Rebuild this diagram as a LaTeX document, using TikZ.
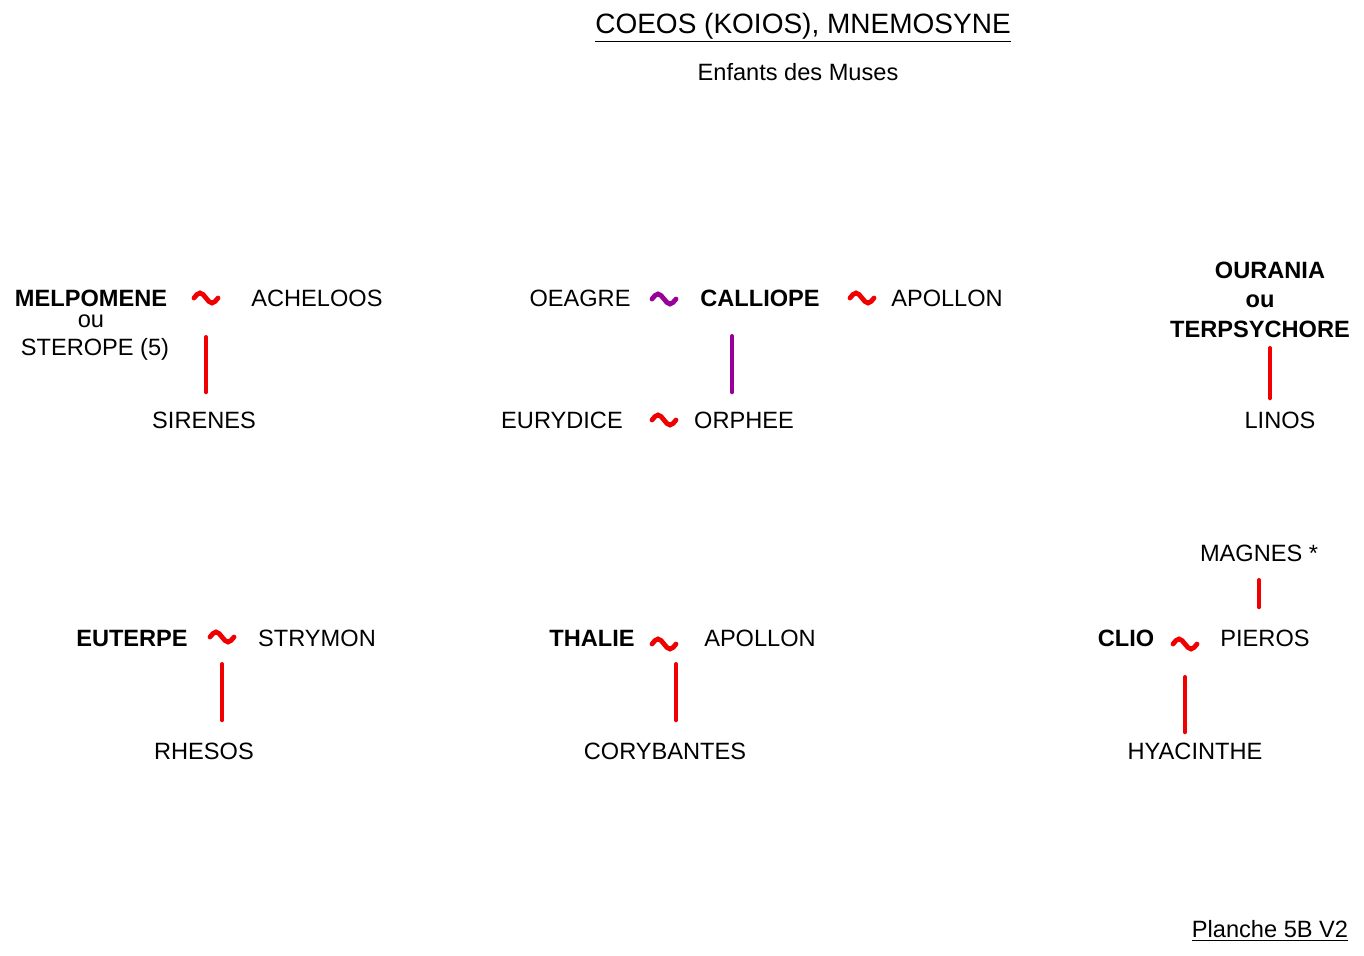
\documentclass[tikz,border=0pt]{standalone}
\usepackage{fontspec}
\setmainfont{Liberation Sans}
\definecolor{mred}{RGB}{240,0,0}
\definecolor{mpurple}{RGB}{153,0,153}
\newcommand\marr[2][mred]{\draw[tilde,#1] (#2) ++(-12,1) sin ++(6,-5) cos ++(6,5) sin ++(6,5) cos ++(6,-5);}

\begin{document}
\begin{tikzpicture}[x=0.5pt,y=-0.5pt,
    every node/.style={inner sep=0pt, font=\fontsize{11.8}{14}\selectfont},
    muse/.style={font=\fontsize{11.8}{14}\selectfont\bfseries},
    tilde/.style={line width=2.4pt, line cap=round},
    link/.style={line width=2pt, line cap=round, mred}]
    \useasboundingbox (0,0) rectangle (1364,955);

    \node at (803,28)(title){\fontsize{14}{16}\selectfont\underline{COEOS (KOIOS), MNEMOSYNE}};
    \node at (798,72)(sub){Enfants des Muses};
    \node at (1270,931)(planche){\underline{Planche 5B V2}};

    % Melpomene
    \node[muse] at (91,298)(melpomene){MELPOMENE};
    \node at (91,321)(ou1){ou};
    \node at (95,349)(sterope){STEROPE (5)};
    \coordinate (t1) at (206,297);
    \node at (317,298)(acheloos){ACHELOOS};
    \node at (204,420)(sirenes){SIRENES};

    % Calliope
    \node at (580,298)(oeagre){OEAGRE};
    \coordinate (t2) at (664,298);
    \node[muse] at (760,298)(calliope){CALLIOPE};
    \coordinate (t3) at (862,297);
    \node at (947,298)(apollon1){APOLLON};
    \node at (562,420)(eurydice){EURYDICE};
    \coordinate (t4) at (664,419);
    \node at (744,420)(orphee){ORPHEE};

    % Ourania
    \node[muse] at (1270,270)(ourania){OURANIA};
    \node[muse] at (1260,301)(ou2){ou};
    \node[muse] at (1260,329)(terpsychore){TERPSYCHORE};
    \node at (1280,420)(linos){LINOS};

    % Euterpe
    \node[muse] at (132,638)(euterpe){EUTERPE};
    \coordinate (t5) at (222,636);
    \node at (317,638)(strymon){STRYMON};
    \node at (204,751)(rhesos){RHESOS};

    % Thalie
    \node[muse] at (592,638)(thalie){THALIE};
    \coordinate (t6) at (664,643);
    \node at (760,638)(apollon2){APOLLON};
    \node at (665,751)(corybantes){CORYBANTES};

    % Clio
    \node at (1259,553)(magnes){MAGNES *};
    \node[muse] at (1126,638)(clio){CLIO};
    \coordinate (t7) at (1185,643);
    \node at (1265,638)(pieros){PIEROS};
    \node at (1195,751)(hyacinthe){HYACINTHE};

    \marr{t1}
    \marr[mpurple]{t2}
    \marr{t3}
    \marr{t4}
    \marr{t5}
    \marr{t6}
    \marr{t7}

    % filiations
    \coordinate (l1) at (206,337);
    \coordinate (l2) at (732,336);
    \coordinate (l3) at (1270,348);
    \coordinate (l4) at (222,664);
    \coordinate (l5) at (676,664);
    \coordinate (l6) at (1259,580);
    \coordinate (l7) at (1185,677);
    \draw[link, shorten >=9.5pt] (l1) -- (l1 |- sirenes.north);
    \draw[link, mpurple, shorten >=9.5pt] (l2) -- (l2 |- orphee.north);
    \draw[link, shorten >=6.5pt] (l3) -- (l3 |- linos.north);
    \draw[link, shorten >=11pt] (l4) -- (l4 |- rhesos.north);
    \draw[link, shorten >=11pt] (l5) -- (l5 |- corybantes.north);
    \draw[link, shorten >=11pt] (l6) -- (l6 |- pieros.north);
    \draw[link, shorten >=5pt] (l7) -- (l7 |- hyacinthe.north);
\end{tikzpicture}
\end{document}
